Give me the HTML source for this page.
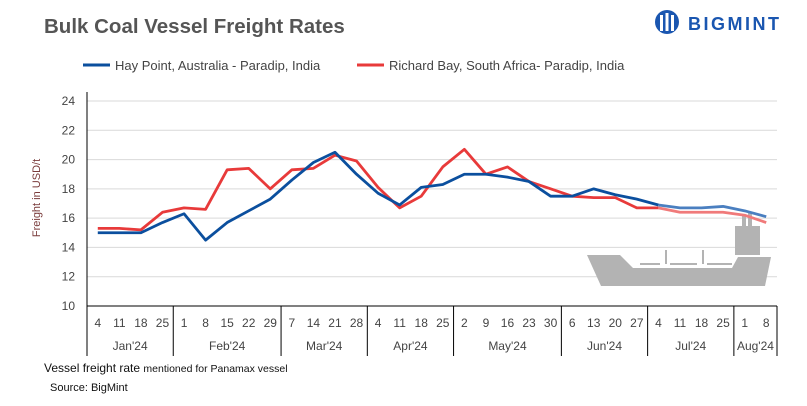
<!DOCTYPE html>
<html><head><meta charset="utf-8"><style>
body{margin:0;background:#fff;width:807px;height:401px;overflow:hidden;font-family:"Liberation Sans",sans-serif}
</style></head><body>
<svg id="c" width="807" height="401" xmlns="http://www.w3.org/2000/svg">
<text x="44" y="33" font-size="20.5" font-weight="bold" fill="#555">Bulk Coal Vessel Freight Rates</text>
<g>
<circle cx="667" cy="22" r="12" fill="#1a56b0"/>
<rect x="660" y="15" width="3" height="16" fill="#fff"/><rect x="665.5" y="13" width="3" height="18" fill="#fff"/><rect x="671" y="15" width="3" height="16" fill="#fff"/>
<text x="688" y="30" font-size="18" font-weight="bold" fill="#1a56b0" letter-spacing="2.5">BIGMINT</text>
</g>
<g>
<line x1="83" y1="65" x2="110" y2="65" stroke="#0b4f9e" stroke-width="3"/>
<text x="115" y="70" font-size="13" fill="#444">Hay Point, Australia - Paradip, India</text>
<line x1="357" y1="65" x2="384" y2="65" stroke="#e83a3a" stroke-width="3"/>
<text x="389" y="70" font-size="13" fill="#444">Richard Bay, South Africa- Paradip, India</text>
</g>
<text transform="translate(40,198) rotate(-90)" text-anchor="middle" font-size="11" fill="#7a3b3b">Freight  in USD/t</text>
<g id="grid"></g><g id="ship" fill="#b3b3b3">
<polygon points="587,255 620,255 633,268 732,268 738,257 771,257 765,286 601,286"/>
<rect x="735" y="226" width="25" height="29"/><rect x="742" y="215" width="4" height="12"/><rect x="748" y="212" width="4" height="15"/>
<rect x="640" y="263" width="20" height="2"/><rect x="665" y="250" width="2" height="14"/><rect x="670" y="263" width="27" height="2"/><rect x="702" y="250" width="2" height="14"/><rect x="707" y="263" width="25" height="2"/>
</g>
<g id="lines"></g><g id="xaxis"></g>
<text x="44" y="372" font-size="12" fill="#111">Vessel freight rate <tspan font-size="10.5">mentioned for Panamax  vessel</tspan></text>
<text x="50" y="391" font-size="11" fill="#111">Source:  BigMint</text>
</svg>
<script>
const days=[4,11,18,25,1,8,15,22,29,7,14,21,28,4,11,18,25,2,9,16,23,30,6,13,20,27,4,11,18,25,1,8];
const months=["Jan'24","Feb'24","Mar'24","Apr'24","May'24","Jun'24","Jul'24","Aug'24"];
const monthCounts=[4,5,4,4,5,4,4,2];
const hayPoint=[15,15,15,15.7,16.3,14.5,15.7,16.5,17.3,18.6,19.8,20.5,19,17.7,16.9,18.1,18.3,19,19,18.8,18.5,17.5,17.5,18,17.6,17.3,16.9,16.7,16.7,16.8,16.5,16.1];
const richardBay=[15.3,15.3,15.2,16.4,16.7,16.6,19.3,19.4,18,19.3,19.4,20.3,19.9,18.1,16.7,17.5,19.5,20.7,19,19.5,18.5,18,17.5,17.4,17.4,16.7,16.7,16.4,16.4,16.4,16.2,15.7];
const yTicks=[10,12,14,16,18,20,22,24];
const NS="http://www.w3.org/2000/svg";
const X0=87,X1=777,Ytop=101,Ybot=306;
const step=(X1-X0)/days.length;
const x=i=>X0+step*(i+0.5);
const y=v=>Ybot-(v-10)/14*(Ybot-Ytop);
function mk(t,a,p){const e=document.createElementNS(NS,t);for(const k in a)e.setAttribute(k,a[k]);p.appendChild(e);return e;}
const g=document.getElementById('grid');
yTicks.forEach(t=>{
 if(t>10){const l=mk('line',{x1:X0,x2:X1,y1:y(t),y2:y(t),stroke:'#d9d9d9','stroke-width':1},g);
 
 }
 const tx=mk('text',{x:75,y:y(t)+4,'text-anchor':'end','font-size':12,fill:'#444'},g);tx.textContent=t;
 
 
});
mk('line',{x1:X0,x2:X0,y1:92,y2:Ybot,stroke:'#000','stroke-width':1},g);
const L=document.getElementById('lines');
function series(vals,col,light,name){
 const split=26;
 const p1=vals.slice(0,split+1).map((v,i)=>x(i)+','+y(v)).join(' ');
 const p2=vals.slice(split).map((v,i)=>x(i+split)+','+y(v)).join(' ');
 const a=mk('polyline',{points:p1,fill:'none',stroke:col,'stroke-width':2.8,'stroke-linejoin':'round'},L);
 
 
 const b=mk('polyline',{points:p2,fill:'none',stroke:light,'stroke-width':2.8,'stroke-linejoin':'round'},L);
 
 
}
series(richardBay,'#e83a3a','#f07a7a','richard-bay');
series(hayPoint,'#0b4f9e','#4a7fc0','hay-point');
const A=mk('g',{},document.getElementById('xaxis'));
mk('line',{x1:X0,x2:X1,y1:Ybot,y2:Ybot,stroke:'#000'},A);
days.forEach((d,i)=>{const t=mk('text',{x:x(i),y:327,'text-anchor':'middle','font-size':12,fill:'#444'},A);t.textContent=d;
 
 });
let idx=0;
mk('line',{x1:X0,x2:X0,y1:Ybot,y2:356,stroke:'#000'},A);
months.forEach((m,k)=>{const s=idx;idx+=monthCounts[k];
 const xe=X0+step*idx;
 mk('line',{x1:xe,x2:xe,y1:Ybot,y2:356,stroke:'#000'},A);
 const t=mk('text',{x:X0+step*(s+idx)/2,y:350,'text-anchor':'middle','font-size':12,fill:'#444'},A);t.textContent=m;
 
 });
</script>
</body></html>
